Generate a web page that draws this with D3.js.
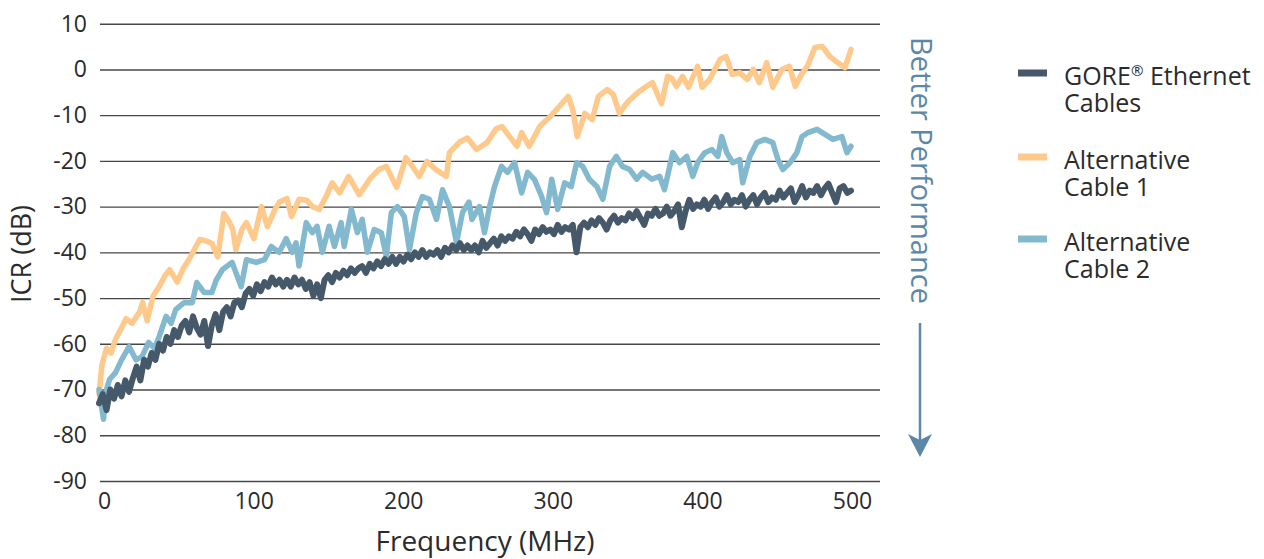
<!DOCTYPE html>
<html>
<head>
<meta charset="utf-8">
<script src="https://cdn.jsdelivr.net/npm/d3@7"></script>
<style>
  html, body { margin: 0; padding: 0; background: #ffffff; }
  svg { display: block; font-family: "Open Sans", "Noto Sans", sans-serif; }
</style>
</head>
<body>
<svg id="chart" width="1264" height="559"></svg>
<script>
// ---------- DATA ----------
const xTicks = [0, 100, 200, 300, 400, 500];
const yTicks = [10, 0, -10, -20, -30, -40, -50, -60, -70, -80, -90];

const seriesNames = ["GORE® Ethernet Cables", "Alternative Cable 1", "Alternative Cable 2"];

// GORE Ethernet Cables (sampled every 2.5 MHz)
const goreFreq = [
  0,2.5,5,7.5,10,12.5,15,17.5,20,22.5,
  25,27.5,30,32.5,35,37.5,40,42.5,45,47.5,
  50,52.5,55,57.5,60,62.5,65,67.5,70,72.5,
  75,77.5,80,82.5,85,87.5,90,92.5,95,97.5,
  100,102.5,105,107.5,110,112.5,115,117.5,120,122.5,
  125,127.5,130,132.5,135,137.5,140,142.5,145,147.5,
  150,152.5,155,157.5,160,162.5,165,167.5,170,172.5,
  175,177.5,180,182.5,185,187.5,190,192.5,195,197.5,
  200,202.5,205,207.5,210,212.5,215,217.5,220,222.5,
  225,227.5,230,232.5,235,237.5,240,242.5,245,247.5,
  250,252.5,255,257.5,260,262.5,265,267.5,270,272.5,
  275,277.5,280,282.5,285,287.5,290,292.5,295,297.5,
  300,302.5,305,307.5,310,312.5,315,317.5,320,322.5,
  325,327.5,330,332.5,335,337.5,340,342.5,345,347.5,
  350,352.5,355,357.5,360,362.5,365,367.5,370,372.5,
  375,377.5,380,382.5,385,387.5,390,392.5,395,397.5,
  400,402.5,405,407.5,410,412.5,415,417.5,420,422.5,
  425,427.5,430,432.5,435,437.5,440,442.5,445,447.5,
  450,452.5,455,457.5,460,462.5,465,467.5,470,472.5,
  475,477.5,480,482.5,485,487.5,490,492.5,495,497.5,
  500
];
const goreICR = [
  -73,-71,-74.5,-70,-72,-69,-71.5,-68,-70.5,-67.5,
  -65,-68,-63.5,-65,-62,-63.5,-60,-61.5,-58.5,-60,
  -57,-58.5,-56,-55,-57.5,-54,-56.5,-58,-55,-60.5,
  -56,-53.5,-57,-53,-52,-54,-51,-50.5,-52,-49,
  -48,-49.5,-47,-48.5,-46.5,-47.5,-45.5,-47,-46,-47.5,
  -46,-47.5,-45.5,-47,-46,-48,-46.5,-49.5,-47,-50,
  -46,-45,-46.5,-44.5,-45.5,-44,-45,-43.5,-44.5,-43.5,
  -43,-44.5,-42.5,-43.5,-42,-43,-41.5,-42.5,-41,-42.5,
  -41,-42,-40.5,-41.5,-40,-41,-39.5,-41,-40,-40.5,
  -39.5,-41,-39,-40,-38.5,-39.5,-38,-39.5,-38.5,-39.5,
  -38.5,-40,-37.5,-39,-38,-37,-38.5,-36.5,-37.5,-36.5,
  -37,-35.5,-36.5,-35,-36,-37.5,-35,-36,-34.5,-35.5,
  -35,-36,-34,-35.5,-34.5,-35,-34,-40,-34.5,-33.5,
  -34.5,-33,-34,-32.5,-33.5,-35,-33,-32,-33.5,-32.5,
  -33,-31.5,-32.5,-31,-32.5,-34,-31.5,-32,-30.5,-32,
  -31.5,-30,-32,-31,-29.5,-34.5,-31,-28.5,-30.5,-29.5,
  -30,-28.5,-30.5,-29,-28,-30,-29,-27.5,-29.5,-28.5,
  -29,-27.5,-30,-28.5,-27.5,-29.5,-28,-27,-29,-28,
  -28.5,-26.5,-28,-27,-26,-29,-27.5,-25.5,-28,-26.5,
  -27,-25.5,-27.5,-26,-25,-27,-29,-26,-25.5,-27,
  -26.5
];

// Alternative Cable 1
const alt1Freq = [0,2,5,8,11,15,18,22,27,29,32,36,40,44,47,52,56,60,64,67,71,75,79,83,86,89,91,95,98,103,108,112,117,120,125,128,133,138,142,146.5,151,155,160,166,173,180,186,191,198,204,208,213,218,224,231,233,240,245,251,258,264,268,273,278,281,286,293,300,306,312,315,318,323,328,332,338,342,346,351,358,364,368,374,378,381,384,388,392,398,401,406,413,417,421,426,431,435,439,444,448,454,459,463,467,471,476,481,486,491,496,500];
const alt1ICR = [-71,-64.5,-61,-62,-59,-56.5,-54.5,-55.5,-53,-51,-55,-49.5,-47.5,-45,-43.8,-46.5,-43.5,-41.5,-39,-37.2,-37.5,-38,-41,-31.5,-33,-35,-39.4,-35,-33.5,-37,-30,-34.4,-30.6,-29,-28.2,-32.2,-28.4,-28.6,-30,-30.6,-27.8,-24.8,-27,-23.4,-27.4,-24,-21.9,-21.2,-25.8,-19.3,-21,-23.4,-20.1,-21.9,-23.4,-18.2,-15.8,-15,-17.5,-16,-13,-12.5,-14.7,-16.8,-13.8,-16.8,-12.5,-10.3,-8.1,-5.9,-8.8,-14.7,-9.6,-11,-5.9,-4.4,-5.5,-9.6,-7.3,-5.1,-3.7,-2.9,-7.5,-1.5,-2,-3.7,-1.5,-3.9,0.7,-3.9,-2.2,2.2,2.8,-1.1,-0.7,-2.2,0,-2.9,1.5,-3.9,0,0.7,-3.7,-1.1,0.7,4.8,5,2.8,1.5,0.4,4.4];

// Alternative Cable 2
const alt2Freq = [0,3,5,7,11,15,20,24.6,28.6,33,37,40,44.6,48,51,56.6,62,65,70,75,78,82,88.5,94.5,98,104.5,110,114.5,119.8,124.5,128.5,131,133,137.8,141.8,145,148.5,153,156.5,161,163,167.8,171.8,175,178.4,183,187.7,191,194.4,198.4,203,206.4,211,215,219.7,224.4,228.4,233,237.7,241.7,246,248,253,256.3,259.7,263,267.6,271.6,276.3,281,285,289.6,294.3,297.6,301,305,309.6,314,317.6,321.6,326,331,335,339.5,344,348,352.9,357.5,361.5,367.5,372.8,376,381.5,386,390.8,394.8,398,402.8,407.5,411.5,414,417.4,421.4,426,428,432.8,437.4,442.7,448,451.4,454.7,459.4,464,467.4,471.4,477.4,482.7,488,494,497.3,500];
const alt2ICR = [-70,-76.5,-70,-67.8,-66.3,-63.5,-60.6,-63.5,-62.8,-59.7,-61,-58.4,-54,-55.5,-52.5,-51,-51,-46.6,-48.8,-48.8,-46,-43.8,-42.2,-47.5,-41.6,-42.2,-41.6,-38.7,-40,-37,-40,-37.9,-43,-33.5,-35.7,-34.3,-40,-34.3,-38.7,-33.5,-38.7,-30.6,-35.7,-32.8,-40,-35,-35.7,-40.9,-31.3,-30,-32.2,-39.4,-31.3,-27.8,-28.4,-32.8,-26.3,-30,-37.9,-31.3,-29,-32.8,-30,-35.7,-30,-25.6,-21.2,-22.5,-20.4,-27,-22.5,-24.1,-27.8,-31.3,-24,-30.6,-24.8,-25.6,-20.4,-21.2,-24,-25.6,-28.4,-21.2,-19,-21.2,-21.9,-24,-22.5,-24,-23.4,-26.3,-18.2,-20.4,-19,-23.4,-20.4,-18.2,-17.5,-19,-14.7,-18.2,-20.4,-19.7,-24.8,-19,-16,-15.3,-16,-19.7,-21.9,-20.4,-18.2,-14.7,-13.8,-13.1,-14.2,-15.3,-14.7,-18.2,-16.8];

const colors = ["#46596a", "#fec98a", "#83b9ce"];

// ---------- DRAW ----------
const svg = d3.select("#chart");
const x = d3.scaleLinear().domain([0, 500]).range([99, 851]);
const xLabel = d3.scaleLinear().domain([0, 500]).range([104, 852]);
const y = d3.scaleLinear().domain([-90, 10]).range([481, 23.7]);
const gridX1 = 100, gridX2 = 880;

// grid lines + y labels
const yAxis = d3.axisLeft(y).tickValues(yTicks).tickSize(-(gridX2 - gridX1)).tickPadding(13).tickFormat(d3.format("d"));
const gy = svg.append("g").attr("transform", `translate(${gridX1},0)`).call(yAxis);
gy.select(".domain").remove();
gy.selectAll(".tick line").attr("stroke", "#474747").attr("stroke-width", 1.4);
gy.selectAll(".tick text").attr("fill", "#2b2b2b").attr("font-size", 23).attr("font-family", '"Open Sans", sans-serif')
  .text(d => d < 0 ? "-" + Math.abs(d) : d);

// x labels
const xAxis = d3.axisBottom(xLabel).tickValues(xTicks).tickSize(0).tickPadding(0).tickFormat(d3.format("d"));
const gx = svg.append("g").attr("transform", `translate(0,493)`).call(xAxis);
gx.select(".domain").remove();
gx.selectAll(".tick text").attr("fill", "#2b2b2b").attr("font-size", 23).attr("font-family", '"Open Sans", sans-serif').attr("dy", "0.71em");

// lines
const line = d3.line().x(d => x(d[0])).y(d => y(d[1]));
const data = [
  d3.zip(alt1Freq, alt1ICR),
  d3.zip(alt2Freq, alt2ICR),
  d3.zip(goreFreq, goreICR)
];
const lineColors = [colors[1], colors[2], colors[0]];
const lineWidths = [5.5, 5.5, 6];
svg.append("g").selectAll("path").data(data).join("path")
  .attr("d", line)
  .attr("fill", "none")
  .attr("stroke", (d, i) => lineColors[i])
  .attr("stroke-width", (d, i) => lineWidths[i])
  .attr("stroke-linejoin", "round")
  .attr("stroke-linecap", "round");

// axis titles
svg.append("text")
  .attr("transform", "translate(31,254) rotate(-90)")
  .attr("text-anchor", "middle")
  .attr("font-size", 27).attr("fill", "#2b2b2b")
  .text("ICR (dB)");
svg.append("text")
  .attr("x", 485).attr("y", 551)
  .attr("text-anchor", "middle")
  .attr("font-size", 28).attr("fill", "#2b2b2b")
  .text("Frequency (MHz)");

// Better performance annotation
svg.append("text")
  .attr("transform", "translate(911,37) rotate(90)")
  .attr("text-anchor", "start")
  .attr("font-size", 29).attr("fill", "#5b88a8")
  .text("Better Performance");
svg.append("line").attr("x1", 920).attr("x2", 920).attr("y1", 323).attr("y2", 440)
  .attr("stroke", "#5b88a8").attr("stroke-width", 2.5);
svg.append("path").attr("d", "M908,434 L920,457 L932,434 L920,440 Z").attr("fill", "#5b88a8");

// legend
const legendY = [73, 157, 239];
const legendLines = [["GORE", "Cables"], ["Alternative", "Cable 1"], ["Alternative", "Cable 2"]];
const lg = svg.append("g");
legendY.forEach((ly, i) => {
  lg.append("rect").attr("x", 1018).attr("y", ly - 3.5).attr("width", 29).attr("height", 7).attr("fill", colors[i]);
  const t = lg.append("text").attr("x", 1064).attr("y", ly + 12).attr("font-size", 25).attr("fill", "#2b2b2b");
  if (i === 0) {
    t.append("tspan").text("GORE");
    t.append("tspan").attr("font-size", 15).attr("dy", -9).text("®");
    t.append("tspan").attr("dy", 9).text(" Ethernet");
  } else {
    t.append("tspan").text(legendLines[i][0]);
  }
  t.append("tspan").attr("x", 1064).attr("dy", 27).text(legendLines[i][1]);
});
</script>
</body>
</html>
